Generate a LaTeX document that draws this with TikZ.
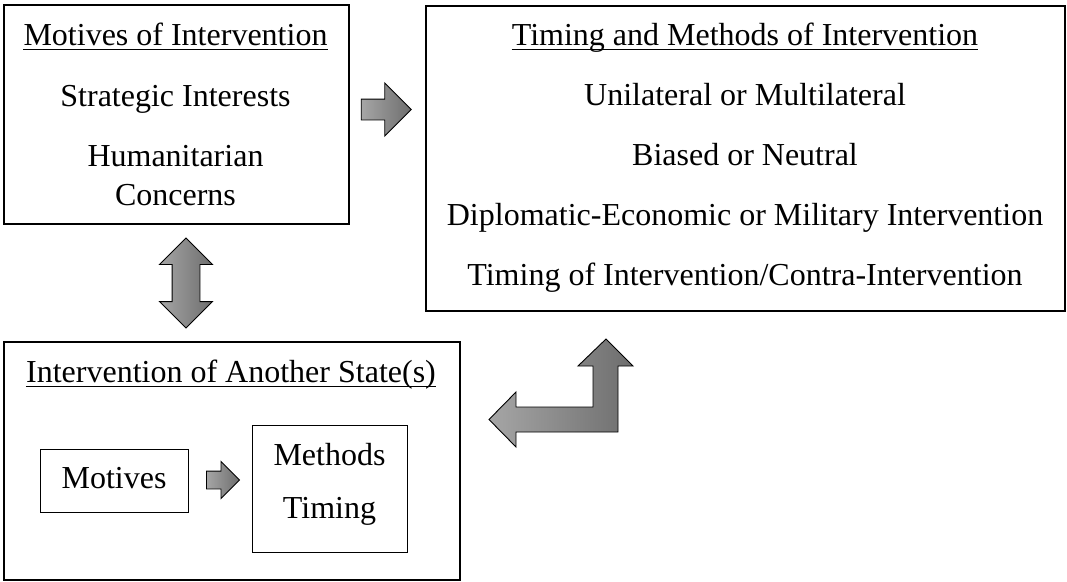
\documentclass[tikz,border=0pt]{standalone}
\usepackage{fontspec}
\setmainfont{Liberation Serif}
\usetikzlibrary{shapes.arrows, positioning, calc}

\tikzset{
  box/.style={draw, line width=1.5pt, inner sep=0pt, anchor=north west},
  subbox/.style={draw, line width=1.2pt, inner sep=0pt, anchor=north west},
  lbl/.style={anchor=base, inner sep=0pt, font=\fontsize{32}{40}\selectfont},
  underrule/.style={line width=1.8pt},
  blockarrow/.style={draw, line width=0.9pt, left color=black!35, right color=black!57,
    inner xsep=0pt, line join=miter},
}

\begin{document}
\begin{tikzpicture}[x=1pt, y=-1pt]
  \useasboundingbox (0,0) rectangle (1067,581);

  % boxes
  \node[box, minimum width=345, minimum height=219] (motives) at (3,4) {};
  \node[box, minimum width=639, minimum height=305] (timing) at (425,5) {};
  \node[box, minimum width=456, minimum height=238] (another) at (3,341) {};
  \node[subbox, minimum width=148, minimum height=63] (inmotives) at (40,449) {};
  \node[subbox, minimum width=155, minimum height=127] (inmethods) at (252,425) {};

  % motives of intervention
  \node[lbl] (motivestitle) at (175.5,45) {Motives of Intervention};
  \node[lbl] (strategic) at (175.5,106) {Strategic Interests};
  \node[lbl] (humanitarian) at (175.5,166) {Humanitarian};
  \node[lbl] (concerns) at (175.5,205) {Concerns};

  % timing and methods
  \node[lbl] (timingtitle) at (745,45) {Timing and Methods of Intervention};
  \foreach \y/\lab [count=\i] in {105/{Unilateral or Multilateral}, 165/{Biased or Neutral},
      225/{Diplomatic-Economic or Military Intervention},
      285/{Timing of Intervention/Contra-Intervention}}{
    \node[lbl] (way\i) at (745,\y) {\lab};
  }

  % another state
  \node[lbl] (anothertitle) at (231,382) {Intervention of Another State(s)};
  \node[lbl] (motivesin) at (114,488) {Motives};
  \node[lbl] (methodsin) at (329.5,465) {Methods};
  \node[lbl] (timingin) at (329.5,518) {Timing};

  % underlined titles
  \foreach \t in {motivestitle, timingtitle, anothertitle}{
    \draw[underrule] ($(\t.base west)+(0,4.5)$) -- ($(\t.base east)+(0,4.5)$);
  }

  % block arrows
  \node[blockarrow, single arrow, single arrow head extend=16pt, inner ysep=10pt,
    minimum height=50pt] (toright) at (381,109.5) {};
  \node[blockarrow, double arrow, double arrow head extend=12.5pt, inner ysep=13.5pt,
    rotate=90, minimum height=90pt] (updown) at (186,283) {};
  \node[blockarrow, single arrow, single arrow head extend=9.5pt, inner ysep=8.5pt,
    minimum height=33pt] (smallright) at (218.5,480) {};
  \draw[blockarrow] (606,339) -- (633,366) -- (618,366) -- (618,432) -- (516,432)
    -- (516,447) -- (489,419.5) -- (516,392) -- (516,407) -- (593,407)
    -- (593,366) -- (578,366) -- cycle;
\end{tikzpicture}
\end{document}
